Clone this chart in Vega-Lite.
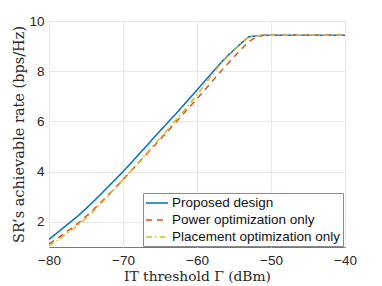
{
  "$schema": "https://vega.github.io/schema/vega-lite/v6.json",
  "width": 296,
  "height": 226,
  "autosize": {"type": "none"},
  "padding": {"left": 49, "top": 21, "right": 37, "bottom": 39},
  "background": "white",
  "config": {
    "view": {"stroke": "#777777", "strokeWidth": 1},
    "axis": {
      "domain": false,
      "grid": true,
      "gridColor": "#e8e8e8",
      "gridWidth": 1,
      "ticks": false,
      "labelFlush": false,
      "labelFont": "Liberation Sans",
      "labelFontSize": 13.5,
      "labelColor": "#262626",
      "titleFont": "DejaVu Serif",
      "titleFontSize": 13.8,
      "titleFontWeight": "normal",
      "titleColor": "#262626"
    }
  },
  "data": {
    "values": [
      {"x": -80, "y": 1.30, "s": "Proposed design"},
      {"x": -79, "y": 1.54, "s": "Proposed design"},
      {"x": -78, "y": 1.78, "s": "Proposed design"},
      {"x": -77, "y": 2.02, "s": "Proposed design"},
      {"x": -76, "y": 2.26, "s": "Proposed design"},
      {"x": -75, "y": 2.53, "s": "Proposed design"},
      {"x": -74, "y": 2.81, "s": "Proposed design"},
      {"x": -73, "y": 3.10, "s": "Proposed design"},
      {"x": -72, "y": 3.40, "s": "Proposed design"},
      {"x": -71, "y": 3.70, "s": "Proposed design"},
      {"x": -70, "y": 4.00, "s": "Proposed design"},
      {"x": -69, "y": 4.32, "s": "Proposed design"},
      {"x": -68, "y": 4.64, "s": "Proposed design"},
      {"x": -67, "y": 4.97, "s": "Proposed design"},
      {"x": -66, "y": 5.30, "s": "Proposed design"},
      {"x": -65, "y": 5.62, "s": "Proposed design"},
      {"x": -64, "y": 5.94, "s": "Proposed design"},
      {"x": -63, "y": 6.26, "s": "Proposed design"},
      {"x": -62, "y": 6.59, "s": "Proposed design"},
      {"x": -61, "y": 6.92, "s": "Proposed design"},
      {"x": -60, "y": 7.25, "s": "Proposed design"},
      {"x": -59, "y": 7.59, "s": "Proposed design"},
      {"x": -58, "y": 7.93, "s": "Proposed design"},
      {"x": -57, "y": 8.26, "s": "Proposed design"},
      {"x": -56, "y": 8.57, "s": "Proposed design"},
      {"x": -55, "y": 8.85, "s": "Proposed design"},
      {"x": -54, "y": 9.12, "s": "Proposed design"},
      {"x": -53, "y": 9.37, "s": "Proposed design"},
      {"x": -52, "y": 9.41, "s": "Proposed design"},
      {"x": -51, "y": 9.43, "s": "Proposed design"},
      {"x": -50, "y": 9.43, "s": "Proposed design"},
      {"x": -45, "y": 9.43, "s": "Proposed design"},
      {"x": -40, "y": 9.43, "s": "Proposed design"},
      {"x": -80, "y": 1.12, "s": "Power optimization only"},
      {"x": -79, "y": 1.32, "s": "Power optimization only"},
      {"x": -78, "y": 1.53, "s": "Power optimization only"},
      {"x": -77, "y": 1.74, "s": "Power optimization only"},
      {"x": -76, "y": 1.96, "s": "Power optimization only"},
      {"x": -75, "y": 2.22, "s": "Power optimization only"},
      {"x": -74, "y": 2.49, "s": "Power optimization only"},
      {"x": -73, "y": 2.78, "s": "Power optimization only"},
      {"x": -72, "y": 3.07, "s": "Power optimization only"},
      {"x": -71, "y": 3.37, "s": "Power optimization only"},
      {"x": -70, "y": 3.68, "s": "Power optimization only"},
      {"x": -69, "y": 4.00, "s": "Power optimization only"},
      {"x": -68, "y": 4.32, "s": "Power optimization only"},
      {"x": -67, "y": 4.64, "s": "Power optimization only"},
      {"x": -66, "y": 4.96, "s": "Power optimization only"},
      {"x": -65, "y": 5.28, "s": "Power optimization only"},
      {"x": -64, "y": 5.60, "s": "Power optimization only"},
      {"x": -63, "y": 5.92, "s": "Power optimization only"},
      {"x": -62, "y": 6.25, "s": "Power optimization only"},
      {"x": -61, "y": 6.58, "s": "Power optimization only"},
      {"x": -60, "y": 6.91, "s": "Power optimization only"},
      {"x": -59, "y": 7.24, "s": "Power optimization only"},
      {"x": -58, "y": 7.58, "s": "Power optimization only"},
      {"x": -57, "y": 7.92, "s": "Power optimization only"},
      {"x": -56, "y": 8.25, "s": "Power optimization only"},
      {"x": -55, "y": 8.57, "s": "Power optimization only"},
      {"x": -54, "y": 8.88, "s": "Power optimization only"},
      {"x": -53, "y": 9.18, "s": "Power optimization only"},
      {"x": -52, "y": 9.36, "s": "Power optimization only"},
      {"x": -51, "y": 9.43, "s": "Power optimization only"},
      {"x": -50, "y": 9.43, "s": "Power optimization only"},
      {"x": -45, "y": 9.43, "s": "Power optimization only"},
      {"x": -40, "y": 9.43, "s": "Power optimization only"},
      {"x": -80, "y": 1.04, "s": "Placement optimization only"},
      {"x": -79, "y": 1.24, "s": "Placement optimization only"},
      {"x": -78, "y": 1.45, "s": "Placement optimization only"},
      {"x": -77, "y": 1.67, "s": "Placement optimization only"},
      {"x": -76, "y": 1.89, "s": "Placement optimization only"},
      {"x": -75, "y": 2.15, "s": "Placement optimization only"},
      {"x": -74, "y": 2.43, "s": "Placement optimization only"},
      {"x": -73, "y": 2.73, "s": "Placement optimization only"},
      {"x": -72, "y": 3.04, "s": "Placement optimization only"},
      {"x": -71, "y": 3.36, "s": "Placement optimization only"},
      {"x": -70, "y": 3.68, "s": "Placement optimization only"},
      {"x": -69, "y": 4.01, "s": "Placement optimization only"},
      {"x": -68, "y": 4.34, "s": "Placement optimization only"},
      {"x": -67, "y": 4.67, "s": "Placement optimization only"},
      {"x": -66, "y": 5.00, "s": "Placement optimization only"},
      {"x": -65, "y": 5.33, "s": "Placement optimization only"},
      {"x": -64, "y": 5.67, "s": "Placement optimization only"},
      {"x": -63, "y": 6.01, "s": "Placement optimization only"},
      {"x": -62, "y": 6.35, "s": "Placement optimization only"},
      {"x": -61, "y": 6.70, "s": "Placement optimization only"},
      {"x": -60, "y": 7.06, "s": "Placement optimization only"},
      {"x": -59, "y": 7.44, "s": "Placement optimization only"},
      {"x": -58, "y": 7.84, "s": "Placement optimization only"},
      {"x": -57, "y": 8.22, "s": "Placement optimization only"},
      {"x": -56, "y": 8.55, "s": "Placement optimization only"},
      {"x": -55, "y": 8.85, "s": "Placement optimization only"},
      {"x": -54, "y": 9.12, "s": "Placement optimization only"},
      {"x": -53, "y": 9.37, "s": "Placement optimization only"},
      {"x": -52, "y": 9.41, "s": "Placement optimization only"},
      {"x": -51, "y": 9.43, "s": "Placement optimization only"},
      {"x": -50, "y": 9.43, "s": "Placement optimization only"},
      {"x": -45, "y": 9.43, "s": "Placement optimization only"},
      {"x": -40, "y": 9.43, "s": "Placement optimization only"}
    ]
  },
  "mark": {"type": "line", "strokeWidth": 1.5, "clip": true},
  "encoding": {
    "x": {
      "field": "x", "type": "quantitative",
      "scale": {"domain": [-80, -40], "nice": false, "zero": false},
      "axis": {"values": [-80, -70, -60, -50, -40], "title": "IT threshold Γ (dBm)", "labelPadding": 6, "titlePadding": 3}
    },
    "y": {
      "field": "y", "type": "quantitative",
      "scale": {"domain": [1, 10], "nice": false, "zero": false},
      "axis": {"values": [2, 4, 6, 8, 10], "title": "SR’s achievable rate (bps/Hz)", "labelPadding": 5, "titlePadding": 2, "titleFontSize": 14.5}
    },
    "color": {
      "field": "s", "type": "nominal",
      "scale": {
        "domain": ["Proposed design", "Power optimization only", "Placement optimization only"],
        "range": ["#0072BD", "#D95319", "#EDB120"]
      },
      "legend": {
        "title": null,
        "orient": "none",
        "legendX": 94,
        "legendY": 172,
        "symbolType": "M-1,0H2.14",
        "symbolSize": 196,
        "symbolStrokeWidth": 1.5,
        "labelFont": "Liberation Sans",
        "labelFontSize": 13.5,
        "labelColor": "#111111",
        "labelOffset": 11,
        "rowPadding": 2,
        "fillColor": "white",
        "strokeColor": "#8a8a8a",
        "padding": 2,
        "labelLimit": 300
      }
    },
    "strokeDash": {
      "field": "s", "type": "nominal",
      "scale": {
        "domain": ["Proposed design", "Power optimization only", "Placement optimization only"],
        "range": [[1, 0], [6, 5], [6, 3, 1.5, 3]]
      },
      "legend": null
    }
  }
}
